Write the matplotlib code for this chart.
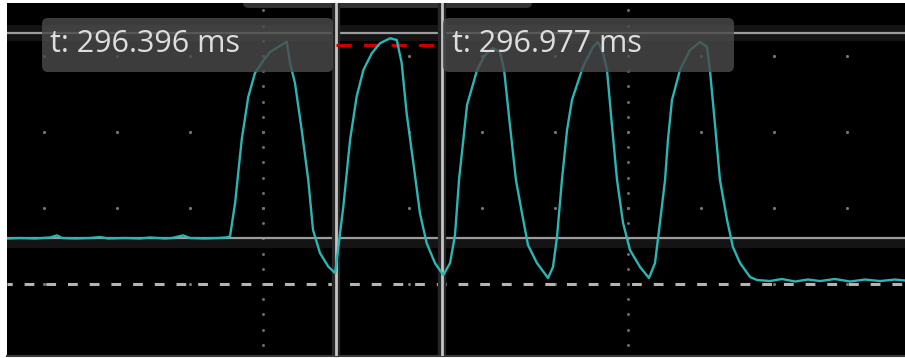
import matplotlib.pyplot as plt
import numpy as np
from matplotlib.patches import FancyBboxPatch

# --- scope capture: time in ms, amplitude in divisions ---

t_ms = [
    294.593, 294.665, 294.747, 294.829, 294.867, 294.895, 294.966, 295.048,
    295.103, 295.147, 295.240, 295.322, 295.377, 295.459, 295.497, 295.558,
    295.596, 295.678, 295.749, 295.793, 295.815,
    # pulse 1
    295.843, 295.879, 295.915, 295.952, 295.989, 296.034, 296.089, 296.126,
    296.144, 296.171, 296.208, 296.244, 296.270, 296.308, 296.354, 296.391,
    # pulse 2
    296.409, 296.436, 296.473, 296.509, 296.546, 296.592, 296.637, 296.692,
    296.729, 296.756, 296.783, 296.820, 296.856, 296.893, 296.939, 296.984,
    # pulse 3
    297.021, 297.048, 297.070, 297.114, 297.169, 297.212, 297.256, 297.295,
    297.317, 297.349, 297.382, 297.415, 297.448, 297.497, 297.558, 297.585,
    297.607, 297.634,
    # pulse 4
    297.662, 297.689, 297.749, 297.804, 297.832, 297.859, 297.881, 297.908,
    297.936, 297.969, 298.007, 298.062, 298.111, 298.144, 298.171, 298.199,
    # pulse 5
    298.215, 298.237, 298.281, 298.336, 298.391, 298.429, 298.445, 298.473,
    298.500, 298.539, 298.571, 298.610, 298.665, 298.703,
    # settled tail
    298.774, 298.840, 298.911, 298.982, 299.048, 299.130, 299.213, 299.295,
    299.377, 299.459, 299.514,
]
v_div = [
    0.599, 0.605, 0.599, 0.612, 0.640, 0.605, 0.599, 0.605,
    0.618, 0.599, 0.605, 0.599, 0.612, 0.599, 0.605, 0.640,
    0.605, 0.599, 0.605, 0.612, 0.625,
    1.066, 1.895, 2.461, 2.776, 2.908, 3.053, 3.132, 3.188,
    2.908, 2.645, 2.026, 1.368, 0.711, 0.408, 0.228, 0.145,
    0.491, 1.017, 1.895, 2.464, 2.816, 3.036, 3.167, 3.233,
    3.211, 2.904, 2.246, 1.588, 0.930, 0.536, 0.272, 0.118,
    0.276, 0.645, 1.368, 2.355, 2.816, 3.013, 3.105, 3.053,
    2.816, 2.092, 1.368, 0.934, 0.513, 0.276, 0.079, 0.224,
    0.618, 1.368,
    2.026, 2.421, 2.855, 3.118, 3.184, 3.039, 2.816, 2.092,
    1.368, 0.803, 0.447, 0.224, 0.079, 0.276, 0.803, 1.368,
    1.895, 2.421, 2.816, 3.079, 3.184, 3.118, 2.816, 2.092,
    1.368, 0.842, 0.487, 0.276, 0.092, 0.053,
    0.039, 0.066, 0.033, 0.059, 0.039, 0.066, 0.033, 0.059,
    0.039, 0.059, 0.046,
]

cursor_t = [296.396, 296.977]
cursor_labels = ["t: 296.396 ms", "t: 296.977 ms"]
h_cursor_v = [3.30, 0.61]
red_level = 3.145
ref_level = 0.0

grid_cols = [294.796, 295.196, 295.596, 295.996, 296.396, 296.796,
             297.196, 297.596, 297.996, 298.396, 298.796, 299.196]
grid_rows = [0, 1, 2, 3]
axis_cols = [295.996, 297.996]
minor_rows = [round(-0.8 + 0.2 * i, 1) for i in range(23)]

t_lim = (294.593, 299.514)
v_lim = (-0.947, 3.697)

fig = plt.figure(figsize=(9.05, 3.58), dpi=100, facecolor="white")
ax = fig.add_axes([7 / 905, 2 / 358, 898 / 905, 353 / 358])
ax.set_facecolor("black")
ax.set_xlim(*t_lim)
ax.set_ylim(*v_lim)
ax.set_xticks([])
ax.set_yticks([])
for side in ["top", "left", "right"]:
    ax.spines[side].set_visible(False)
ax.spines["bottom"].set_color("#3a3a3a")
ax.spines["bottom"].set_linewidth(1.5)

# graticule
gx, gy = np.meshgrid(grid_cols, grid_rows)
ax.scatter(gx.ravel(), gy.ravel(), s=5, color="#777777", linewidths=0, zorder=1)
for c in axis_cols:
    ax.scatter([c] * len(minor_rows), minor_rows, s=4.5, color="#707070",
               linewidths=0, zorder=1)

# horizontal cursors with their highlight bands
ax.axhspan(h_cursor_v[0] - 0.10, h_cursor_v[0] + 0.11, color="#141414", lw=0, zorder=0.5)
ax.axhspan(h_cursor_v[1] - 0.13, h_cursor_v[1], color="#141414", lw=0, zorder=0.5)
for hv in h_cursor_v:
    ax.axhline(hv, color="#9c9c9c", lw=1.6, zorder=2)

# reference level
ax.axhline(ref_level, color="#b4b4b4", lw=2.2, ls=(1.5, (3.2, 3.9)), zorder=2)

# top readout tab (clipped by the frame)
top_tab = FancyBboxPatch((295.886, 3.632), 1.584, 0.4,
                         boxstyle="round,pad=0,rounding_size=0.03",
                         mutation_aspect=2.4, facecolor="#333333",
                         edgecolor="none", zorder=2)
ax.add_patch(top_tab)

# vertical cursors
for ct in cursor_t:
    ax.axvline(ct, color="#262626", lw=6, zorder=2.5)
    ax.axvline(ct, color="#c4c4c4", lw=2.0, zorder=3)

ax.plot(cursor_t, [red_level, red_level], color="#c80000", lw=2.2,
        ls=(0, (5, 4)), solid_capstyle="butt", zorder=3.5)

ax.plot(t_ms, v_div, color="#2bb5b5", lw=1.7, zorder=4)

# cursor readouts
box_x = [294.785, 296.982]
text_x = [294.829, 297.032]
for bx, tx, label in zip(box_x, text_x, cursor_labels):
    box = FancyBboxPatch((bx, 2.789), 1.595, 0.711,
                         boxstyle="round,pad=0,rounding_size=0.033",
                         mutation_aspect=2.4, facecolor="#4a4a4a",
                         edgecolor="none", alpha=0.82, zorder=5)
    ax.add_patch(box)
    ax.text(tx, 3.05, label, fontsize=22, color="#dedede", va="baseline",
            ha="left", family=["Open Sans", "DejaVu Sans"], zorder=6)

fig.savefig("out.png", dpi=100, facecolor=fig.get_facecolor())
